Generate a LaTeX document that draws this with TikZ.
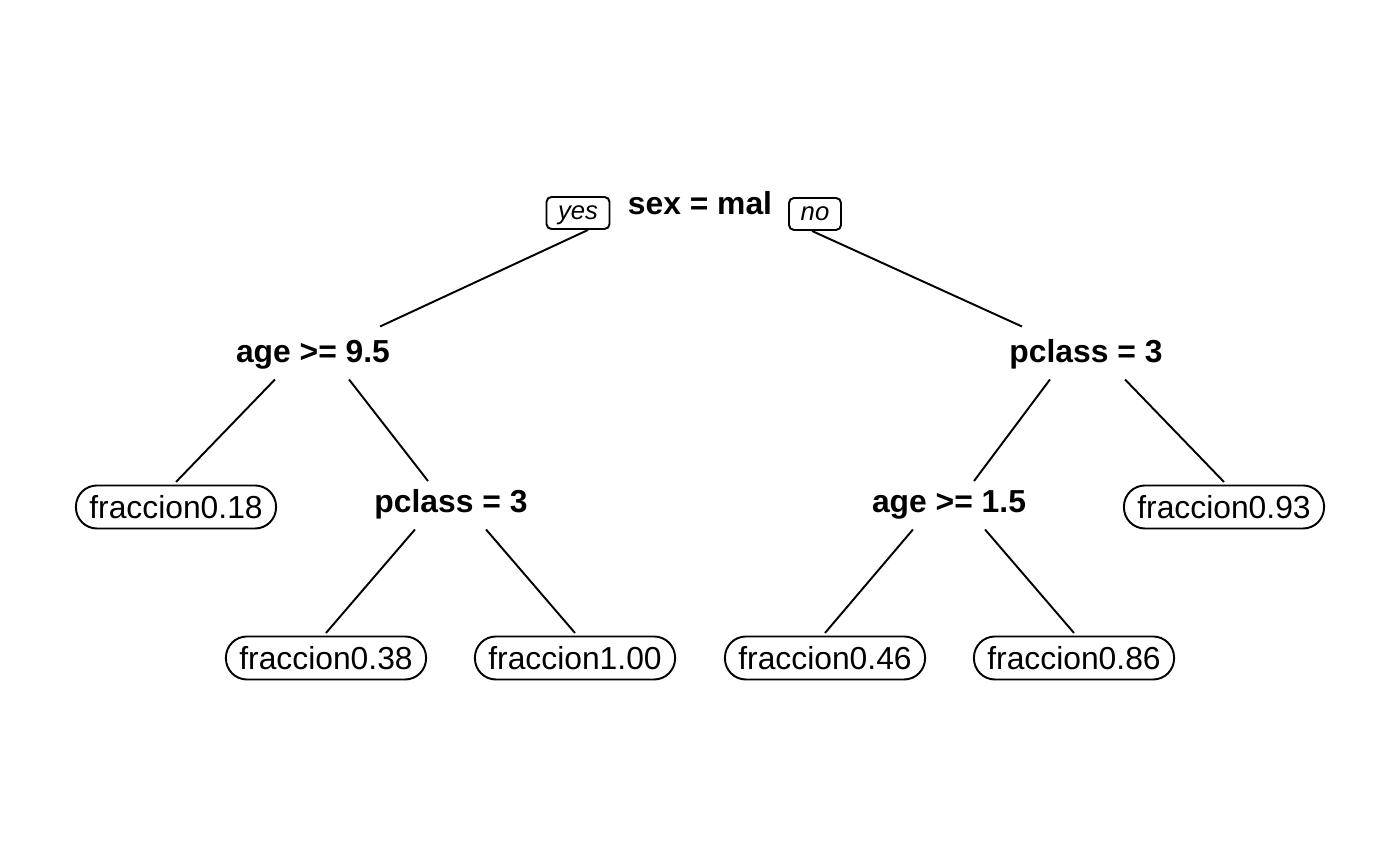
\documentclass[tikz,border=0pt]{standalone}
\usepackage{fontspec}
\setmainfont{Liberation Sans}
\usetikzlibrary{positioning}

\tikzset{
  split/.style={font=\fontsize{9.05}{11}\selectfont\bfseries, inner sep=0pt, minimum height=0.51cm,
    text height=0.2cm, text depth=0cm},
  leaf/.style={draw, rounded corners=0.21cm, minimum width=2cm, minimum height=0.43cm,
    inner sep=0pt, outer sep=0.035cm, font=\fontsize{9.05}{11}\selectfont},
  yesno/.style={draw, rounded corners=0.05cm, inner sep=0pt, minimum height=0.32cm,
    text height=0.14cm, text depth=0cm, font=\fontsize{7.3}{9}\selectfont\itshape}
}

\begin{document}
\begin{tikzpicture}[x=0.01cm, y=-0.01cm, line width=0.55pt]
  \useasboundingbox (0,0) rectangle (1400,865);
  % splits
  \node[split] (root) at (700,205) {sex = mal};
  \node[yesno, minimum width=0.63cm] (yes) at (578,213) {yes};
  \node[yesno, minimum width=0.52cm] (no) at (815,214) {no};
  \node[split] (age1) at (313,353) {age >= 9.5};
  \node[split] (pcl1) at (1086,353) {pclass = 3};
  \node[split] (pcl2) at (451,503) {pclass = 3};
  \node[split] (age2) at (949,503) {age >= 1.5};
  % leaves
  \node[leaf] (f18) at (176,507) {fraccion0.18};
  \node[leaf] (f93) at (1224,507) {fraccion0.93};
  \node[leaf] (f38) at (326,658) {fraccion0.38};
  \node[leaf] (f100) at (575,658) {fraccion1.00};
  \node[leaf] (f46) at (825,658) {fraccion0.46};
  \node[leaf] (f86) at (1074,658) {fraccion0.86};
  % branches
  \draw ([xshift=0.1cm]yes.south) -- ([xshift=0.67cm]age1.north);
  \draw ([xshift=-0.03cm]no.south) -- ([xshift=-0.64cm]pcl1.north);
  \draw ([xshift=-0.38cm]age1.south) -- (f18.north);
  \draw ([xshift=0.36cm]age1.south) -- ([xshift=-0.23cm, yshift=-0.045cm]pcl2.north);
  \draw ([xshift=-0.36cm]pcl1.south) -- ([xshift=0.25cm, yshift=-0.045cm]age2.north);
  \draw ([xshift=0.39cm]pcl1.south) -- (f93.north);
  \draw ([xshift=-0.36cm]pcl2.south) -- (f38.north);
  \draw ([xshift=0.35cm]pcl2.south) -- (f100.north);
  \draw ([xshift=-0.36cm]age2.south) -- (f46.north);
  \draw ([xshift=0.36cm]age2.south) -- (f86.north);
\end{tikzpicture}
\end{document}
